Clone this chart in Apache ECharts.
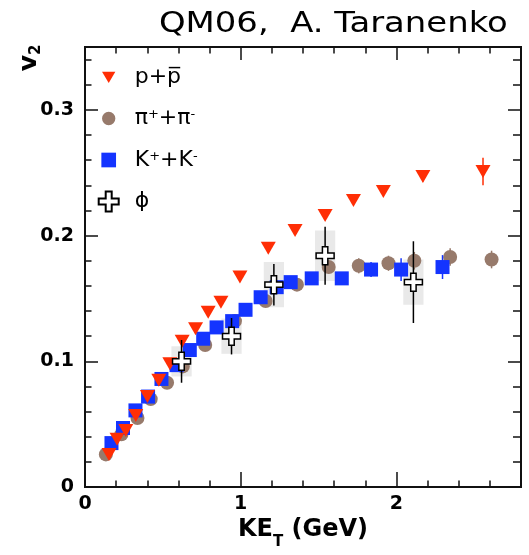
<!DOCTYPE html>
<html>
<head>
<meta charset="utf-8">
<script src="https://cdn.jsdelivr.net/npm/echarts@6/dist/echarts.min.js"></script>
<style>
  html, body { margin: 0; padding: 0; background: #ffffff; }
  #chart { width: 529px; height: 555px; }
</style>
</head>
<body>
<div id="chart"></div>
<script>
// Elliptic flow v2 versus transverse kinetic energy KE_T for identified hadrons.

// p + pbar
const protonKE  = [0.154, 0.206, 0.262, 0.326, 0.401, 0.474, 0.545, 0.624, 0.710, 0.791, 0.873, 0.995, 1.177, 1.349, 1.542, 1.724, 1.916, 2.170, 2.556];
const protonV2  = [0.026, 0.038, 0.045, 0.057, 0.072, 0.085, 0.098, 0.116, 0.126, 0.139, 0.147, 0.167, 0.190, 0.204, 0.216, 0.228, 0.235, 0.247, 0.251];
const protonErr = [0, 0, 0, 0, 0, 0, 0, 0, 0, 0, 0, 0, 0, 0, 0, 0, 0, 0.004, 0.011];

// pi+ + pi-
const pionKE  = [0.134, 0.234, 0.337, 0.422, 0.527, 0.628, 0.772, 0.963, 1.160, 1.361, 1.565, 1.758, 1.949, 2.115, 2.345, 2.611];
const pionV2  = [0.026, 0.042, 0.055, 0.070, 0.083, 0.096, 0.113, 0.132, 0.148, 0.161, 0.175, 0.176, 0.178, 0.180, 0.183, 0.181];
const pionErr = [0, 0, 0, 0, 0, 0, 0, 0, 0, 0, 0.005, 0.006, 0.006, 0.007, 0.007, 0.007];

// K+ + K-
const kaonKE  = [0.170, 0.244, 0.324, 0.405, 0.491, 0.588, 0.673, 0.759, 0.845, 0.945, 1.031, 1.128, 1.231, 1.321, 1.456, 1.649, 1.837, 2.030, 2.296];
const kaonV2  = [0.035, 0.047, 0.061, 0.072, 0.086, 0.097, 0.109, 0.118, 0.127, 0.132, 0.141, 0.151, 0.159, 0.163, 0.166, 0.166, 0.173, 0.173, 0.175];
const kaonErr = [0, 0, 0, 0, 0, 0, 0, 0, 0, 0, 0, 0, 0, 0, 0, 0, 0.006, 0.009, 0.0095];

// phi meson: statistical and systematic uncertainties
const phiKE   = [0.620, 0.941, 1.213, 1.542, 2.109];
const phiV2   = [0.100, 0.120, 0.161, 0.184, 0.163];
const phiStat = [0.017, 0.0145, 0.0165, 0.023, 0.0325];
const phiSys  = [0.012, 0.014, 0.018, 0.020, 0.018];

// axis ticks and labels
const xMajor = [0, 1, 2];
const xTickLabels = ['0', '1', '2'];
const yMajor = [0, 0.1, 0.2, 0.3];
const yTickLabels = ['0', '0.1', '0.2', '0.3'];

const FONT = '"DejaVu Sans", Verdana, sans-serif';
const FRAME = '#111111';
const BOX_HALF_WIDTH = 0.065; // GeV, half width of the systematic boxes

const CROSS_PATH = 'path://M7,0H13V7H20V13H13V20H7V13H0V7H7Z';

// legend icons share a 30x30 frame so each keeps its own size
const ICON_TRIANGLE = 'path://M0,0M30,30M5,7H25L15,24Z';
const ICON_CIRCLE = 'path://M0,0M30,30M5,15A10,10,0,1,1,25,15A10,10,0,1,1,5,15Z';
const ICON_SQUARE = 'path://M0,0M30,30M4,4H26V26H4Z';
const ICON_CROSS = 'path://M10.5,0H19.5V10.5H30V19.5H19.5V30H10.5V19.5H0V10.5H10.5Z';

function majorLabel(values, labels) {
  return function (v) {
    const i = values.findIndex(m => Math.abs(m - v) < 1e-9);
    return i >= 0 ? labels[i] : '';
  };
}

function xAxisDef(position, interval, len, withLabels, withLine) {
  return {
    type: 'value', gridIndex: 0, position: position,
    min: 0, max: 2.8, interval: interval,
    axisLine: { show: !!withLine, onZero: false, lineStyle: { color: FRAME, width: 2 } },
    splitLine: { show: false },
    axisTick: { show: true, inside: true, length: len, lineStyle: { color: FRAME, width: 1.5 } },
    axisLabel: withLabels ? {
      show: true, margin: 7, color: '#000', fontFamily: FONT, fontSize: 19, fontWeight: 'bold',
      formatter: majorLabel(xMajor, xTickLabels)
    } : { show: false }
  };
}

function yAxisDef(position, interval, len, withLabels, withLine) {
  return {
    type: 'value', gridIndex: 0, position: position,
    min: 0, max: 0.35, interval: interval,
    axisLine: { show: !!withLine, onZero: false, lineStyle: { color: FRAME, width: 2 } },
    splitLine: { show: false },
    axisTick: { show: true, inside: true, length: len, lineStyle: { color: FRAME, width: 1.5 } },
    axisLabel: withLabels ? {
      show: true, margin: 11, color: '#000', fontFamily: FONT, fontSize: 19, fontWeight: 'bold',
      formatter: majorLabel(yMajor, yTickLabels)
    } : { show: false }
  };
}

function withErrors(xs, ys, es) {
  return xs.map((x, i) => [x, ys[i], es[i]]).filter(d => d[2] > 0);
}

function errorBarRenderer(color, width) {
  return function (params, api) {
    const x = api.value(0), y = api.value(1), e = api.value(2);
    const a = api.coord([x, y - e]);
    const b = api.coord([x, y + e]);
    return {
      type: 'line',
      shape: { x1: a[0], y1: a[1], x2: b[0], y2: b[1] },
      style: { stroke: color, lineWidth: width }
    };
  };
}

const xBottom = xAxisDef('bottom', 0.2, 6.5, true, true);
xBottom.name = '{m|KE}{t|T}{m| (GeV)}';
xBottom.nameLocation = 'middle';
xBottom.nameGap = 26;
xBottom.nameTextStyle = {
  color: '#000',
  rich: {
    m: { fontFamily: FONT, fontSize: 24, fontWeight: 'bold', color: '#000', lineHeight: 25, verticalAlign: 'top' },
    t: { fontFamily: FONT, fontSize: 15, fontWeight: 'bold', color: '#000', lineHeight: 15, padding: [17, 0, 0, 0], verticalAlign: 'top' }
  }
};

const legendText = {
  proton: 'p+p\u0305',
  pion: '\u03c0{s|+}+\u03c0{s|-}',
  kaon: 'K{s|+}+K{s|-}',
  phi: '\u03d5'
};

const option = {
  backgroundColor: '#ffffff',
  animation: false,
  grid: {
    left: 85, right: 8, top: 47, bottom: 67,
    show: true, borderColor: FRAME, borderWidth: 2, backgroundColor: 'transparent'
  },
  xAxis: [
    xBottom,
    xAxisDef('bottom', 1, 15, false, false),
    xAxisDef('top', 0.2, 6.5, false, true),
    xAxisDef('top', 1, 13, false, false)
  ],
  yAxis: [
    yAxisDef('left', 0.02, 6.5, true, true),
    yAxisDef('left', 0.1, 13, false, false),
    yAxisDef('right', 0.02, 8, false, true),
    yAxisDef('right', 0.1, 13, false, false)
  ],
  legend: {
    orient: 'vertical',
    left: 92.7, top: 61,
    itemWidth: 20, itemHeight: 20,
    itemGap: 19.5,
    data: [
      { name: 'proton', icon: ICON_TRIANGLE },
      { name: 'pion', icon: ICON_CIRCLE },
      { name: 'kaon', icon: ICON_SQUARE },
      { name: 'phi', icon: ICON_CROSS }
    ],
    formatter: name => legendText[name],
    textStyle: {
      fontFamily: FONT, fontSize: 22, color: '#000', lineHeight: 20,
      padding: [0, 0, 0, 11],
      rich: {
        s: { fontFamily: FONT, fontSize: 13, color: '#000', lineHeight: 10, verticalAlign: 'top' }
      }
    }
  },
  graphic: [
    {
      type: 'text',
      x: 507.8, y: 25,
      scaleX: 1.21,
      style: {
        text: 'QM06,  A. Taranenko',
        align: 'right', verticalAlign: 'middle',
        fontFamily: FONT, fontSize: 28, fontWeight: 'normal', fill: '#000'
      }
    },
    {
      type: 'text',
      x: 29, y: 58,
      rotation: Math.PI / 2,
      style: {
        text: '{v|v}{s|2}',
        align: 'center', verticalAlign: 'middle',
        rich: {
          v: { fontFamily: FONT, fontSize: 25, fontWeight: 'bold', fill: '#000', lineHeight: 24, verticalAlign: 'top' },
          s: { fontFamily: FONT, fontSize: 15, fontWeight: 'bold', fill: '#000', lineHeight: 15, padding: [12, 0, 0, 0], verticalAlign: 'top' }
        }
      }
    }
  ],
  series: [
    {
      name: 'phiSys', type: 'custom', xAxisIndex: 0, yAxisIndex: 0, z: 1, silent: true,
      data: phiKE.map((x, i) => [x, phiV2[i], phiSys[i]]),
      renderItem: function (params, api) {
        const x = api.value(0), y = api.value(1), e = api.value(2);
        const p1 = api.coord([x - BOX_HALF_WIDTH, y + e]);
        const p2 = api.coord([x + BOX_HALF_WIDTH, y - e]);
        return {
          type: 'rect',
          shape: { x: p1[0], y: p1[1], width: p2[0] - p1[0], height: p2[1] - p1[1] },
          style: { fill: '#e9e9e9' }
        };
      }
    },
    {
      name: 'pionErr', type: 'custom', xAxisIndex: 0, yAxisIndex: 0, z: 2, silent: true,
      data: withErrors(pionKE, pionV2, pionErr),
      renderItem: errorBarRenderer('#967868', 1.5)
    },
    {
      name: 'pion', type: 'scatter', xAxisIndex: 0, yAxisIndex: 0, z: 3,
      symbol: 'circle', symbolSize: 14,
      itemStyle: { color: '#977a6b', opacity: 1 },
      data: pionKE.map((x, i) => [x, pionV2[i]])
    },
    {
      name: 'kaonErr', type: 'custom', xAxisIndex: 0, yAxisIndex: 0, z: 4, silent: true,
      data: withErrors(kaonKE, kaonV2, kaonErr),
      renderItem: errorBarRenderer('#1434ff', 1.5)
    },
    {
      name: 'kaon', type: 'scatter', xAxisIndex: 0, yAxisIndex: 0, z: 5,
      symbol: 'rect', symbolSize: 14,
      itemStyle: { color: '#1434ff', opacity: 1 },
      data: kaonKE.map((x, i) => [x, kaonV2[i]])
    },
    {
      name: 'protonErr', type: 'custom', xAxisIndex: 0, yAxisIndex: 0, z: 6, silent: true,
      data: withErrors(protonKE, protonV2, protonErr),
      renderItem: errorBarRenderer('#ff2e05', 1.5)
    },
    {
      name: 'proton', type: 'scatter', xAxisIndex: 0, yAxisIndex: 0, z: 7,
      symbol: 'triangle', symbolRotate: 180, symbolSize: [15, 13],
      itemStyle: { color: '#ff2e05', opacity: 1 },
      data: protonKE.map((x, i) => [x, protonV2[i]])
    },
    {
      name: 'phiErr', type: 'custom', xAxisIndex: 0, yAxisIndex: 0, z: 8, silent: true,
      data: withErrors(phiKE, phiV2, phiStat),
      renderItem: errorBarRenderer('#000000', 1.5)
    },
    {
      name: 'phi', type: 'scatter', xAxisIndex: 0, yAxisIndex: 0, z: 9,
      symbol: CROSS_PATH, symbolSize: 18,
      itemStyle: { color: '#ffffff', borderColor: '#000000', borderWidth: 1.5, opacity: 1 },
      data: phiKE.map((x, i) => [x, phiV2[i]])
    }
  ]
};

const chart = echarts.init(document.getElementById('chart'), null, { renderer: 'canvas' });
chart.setOption(option);
</script>
</body>
</html>
